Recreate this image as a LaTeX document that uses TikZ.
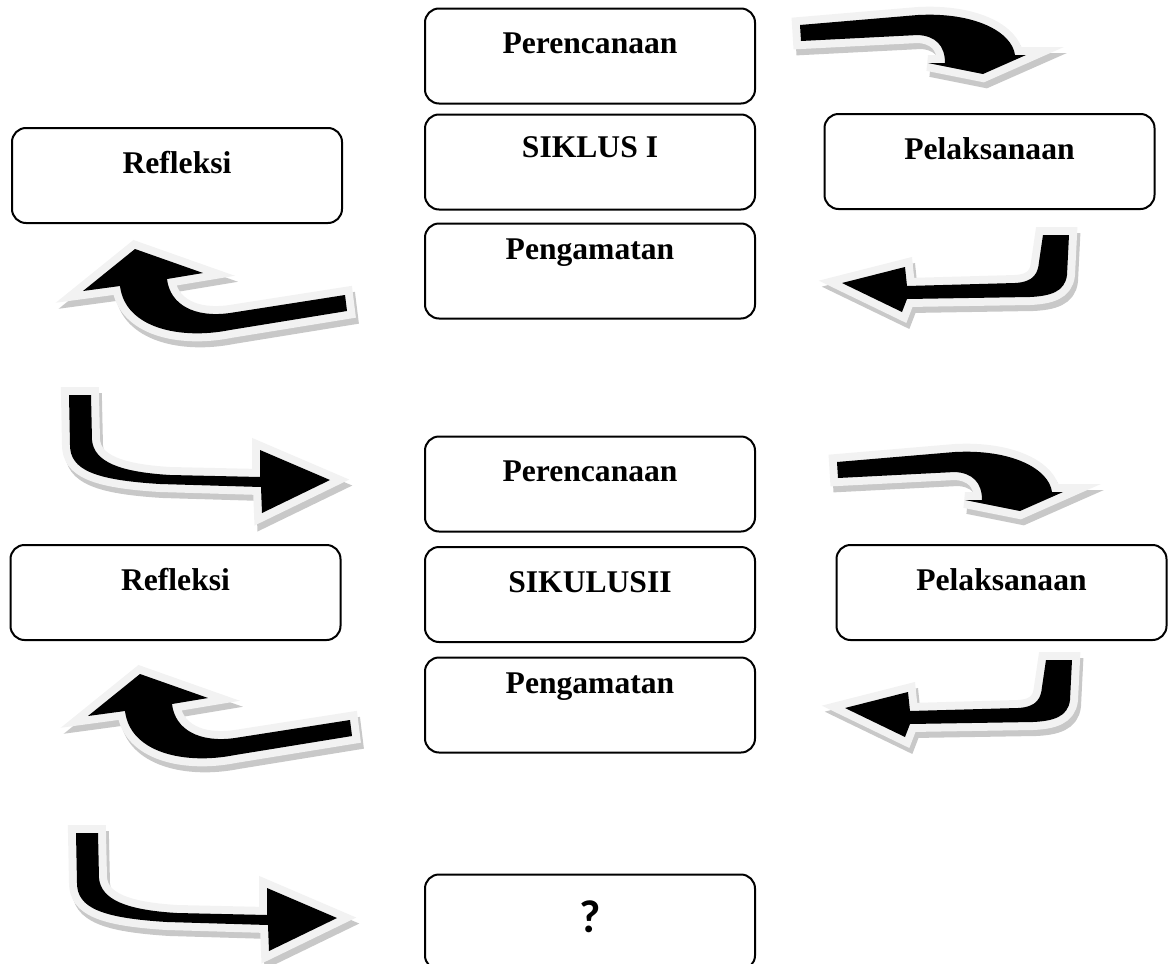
\documentclass[tikz,border=0pt]{standalone}
\usepackage{fontspec}
\setmainfont{Liberation Serif}
\newfontfamily\qfont{Carlito}
\usepackage{tikz}

\definecolor{rimgray}{HTML}{F2F2F2}
\definecolor{shadowgray}{HTML}{C8C8C8}

\tikzset{
  box/.style={draw, rounded corners=7pt, line width=1pt, minimum width=165pt,
    minimum height=47.5pt, inner sep=0pt},
  lbl/.style={anchor=base, font=\fontsize{15.8}{18}\selectfont\bfseries},
  arrowrim/.style={draw=rimgray, fill=rimgray, line width=8pt, line join=miter},
  arrowshadow/.style={draw=shadowgray, fill=shadowgray, line width=8pt,
    line join=miter, shift={(3,6)}},
}

% curved block arrows (pixel coordinates, y downwards)
\newcommand{\arrowA}[1]{\path[#1] (800,25) -- (918,15)
  .. controls (975,12) and (1012,32) .. (1015,55) -- (1026,55) -- (983,74)
  -- (928,63) -- (945,63) .. controls (945,45) and (935,36) .. (918,35)
  -- (801,41) -- cycle;}
\newcommand{\arrowB}[1]{\path[#1] (1043,235) -- (1069,235) -- (1067,275)
  .. controls (1065,292) and (1050,296) .. (1030,297) -- (907,299) -- (902,312)
  -- (842,283) -- (905,267) -- (907,286) -- (1015,283)
  .. controls (1035,282) and (1038,272) .. (1039,262) -- cycle;}
\newcommand{\arrowC}[1]{\path[#1] (345,295) -- (347,311) -- (230,330)
  .. controls (180,340) and (125,328) .. (120,286) -- (83,291) -- (135,249)
  -- (203,273) -- (167,279) .. controls (170,305) and (195,318) .. (230,313)
  -- cycle;}
\newcommand{\arrowD}[1]{\path[#1] (69,395) -- (91,395) -- (92,440)
  .. controls (94,462) and (120,472) .. (170,475) -- (260,477) -- (260,450)
  -- (330,480) -- (262,513) -- (261,487) -- (160,484)
  .. controls (95,480) and (70,470) .. (70,445) -- cycle;}
% shadow, light rim, black body
\newcommand{\fancyarrow}[2]{%
  \begin{scope}[shift={#2}]
    #1{arrowshadow} #1{arrowrim} #1{fill=black}
  \end{scope}}

\begin{document}
\begin{tikzpicture}[x=0.5pt, y=-0.5pt]
  \useasboundingbox (0,0) rectangle (1169,964);

  % cycle I
  \node (per1) [box] at (590,56) {};
  \node (sik1) [box] at (590,162) {};
  \node (pen1) [box] at (590,271) {};
  \node (ref1) [box] at (177,175.5) {};
  \node (pel1) [box] at (989.5,161.5) {};
  \node (per1txt) [lbl] at (590,53) {Perencanaan};
  \node (sik1txt) [lbl] at (590,157) {SIKLUS I};
  \node (pen1txt) [lbl] at (590,259) {Pengamatan};
  \node (ref1txt) [lbl] at (177,173) {Refleksi};
  \node (pel1txt) [lbl] at (989.5,159) {Pelaksanaan};

  % cycle II
  \node (per2) [box] at (590,484) {};
  \node (sik2) [box] at (590,594.5) {};
  \node (pen2) [box] at (590,705) {};
  \node (ref2) [box] at (175.5,592.5) {};
  \node (pel2) [box] at (1001.5,592.5) {};
  \node (per2txt) [lbl] at (590,481) {Perencanaan};
  \node (sik2txt) [lbl] at (590,592) {SIKULUSII};
  \node (pen2txt) [lbl] at (590,693) {Pengamatan};
  \node (ref2txt) [lbl] at (175.5,590) {Refleksi};
  \node (pel2txt) [lbl] at (1001.5,590) {Pelaksanaan};

  % next
  \node (nxt) [box] at (590,922) {};
  \node (nxttxt) [anchor=base, font=\qfont\fontsize{23}{26}\selectfont\bfseries]
    at (590,932) {?};

  % arrows
  \fancyarrow{\arrowA}{(0,0)}
  \fancyarrow{\arrowB}{(0,0)}
  \fancyarrow{\arrowC}{(0,0)}
  \fancyarrow{\arrowD}{(0,0)}
  \fancyarrow{\arrowA}{(37,437)}
  \fancyarrow{\arrowB}{(3,425)}
  \fancyarrow{\arrowC}{(5,425)}
  \fancyarrow{\arrowD}{(7,438)}
\end{tikzpicture}
\end{document}
